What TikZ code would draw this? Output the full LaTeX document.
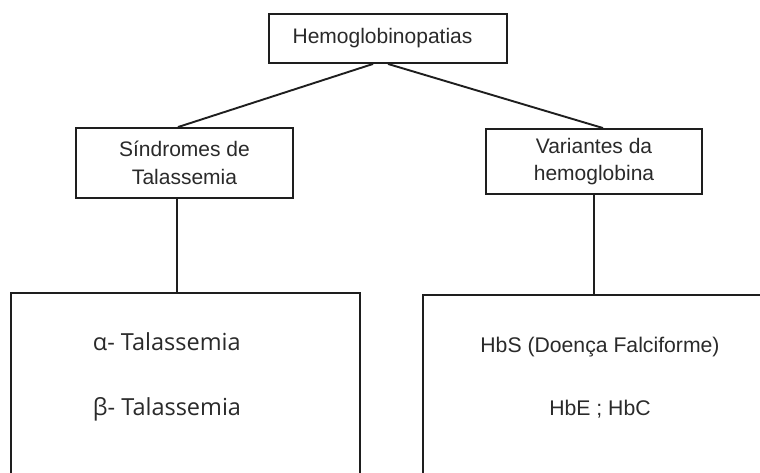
\documentclass[tikz,border=0pt]{standalone}
\usepackage{fontspec}
\setmainfont{Liberation Sans}
\newfontfamily\segoe{Open Sans}
\definecolor{ink}{HTML}{1E1E1E}
\definecolor{txtc}{HTML}{2A2A2A}
\begin{document}
\begin{tikzpicture}[x=1pt,y=-1pt,line width=1.9pt,
  box/.style={draw=ink,rectangle,inner sep=0pt,align=center,text=txtc,
              font=\fontsize{21}{27.5}\selectfont},
  bigbox/.style={draw=ink,rectangle,inner sep=0pt},
  seg/.style={inner sep=0pt,text=txtc,font=\segoe\fontsize{23.5}{26}\selectfont},
  ari/.style={inner sep=0pt,text=txtc,font=\fontsize{21.2}{26}\selectfont},
  link/.style={draw=ink,line width=1.9pt}]
\useasboundingbox (0,0) rectangle (760,472);
\fill[white] (0,0) rectangle (760,472);
\clip (0,0) rectangle (760,472);
\node[box,minimum width=238pt,minimum height=49pt] (top) at (388,38.5) {\hspace*{-11pt}Hemoglobinopatias};
\node[box,minimum width=217pt,minimum height=70pt] (sind) at (184.5,163) {Síndromes de\\Talassemia};
\node[box,minimum width=216pt,minimum height=65pt] (var) at (594,161.5) {Variantes da\\hemoglobina};
\node[bigbox,minimum width=349pt,minimum height=300pt] (thal) at (185.5,443) {};
\node[bigbox,minimum width=477pt,minimum height=300pt] (hbbox) at (661.5,445) {};
\node[seg,anchor=west] (alpha) at (92,342) {α- Talassemia};
\node[seg,anchor=west] (beta) at (92,409) {β- Talassemia};
\node[ari] (hbs) at (600,347) {HbS (Doença Falciforme)};
\node[ari] (hbe) at (600,409) {HbE ; HbC};
\coordinate (tl) at ([xshift=-15pt]top.south);
\coordinate (sl) at ([xshift=-6.5pt]sind.north);
\coordinate (vr) at ([xshift=9pt]var.north);
\coordinate (sd) at ([xshift=-7.5pt]sind.south);
\draw[link] (tl) -- (sl);
\draw[link] (top.south) -- (vr);
\draw[link] (sd) -- (sd |- thal.north);
\draw[link] (var.south) -- (var.south |- hbbox.north);
\end{tikzpicture}
\end{document}
